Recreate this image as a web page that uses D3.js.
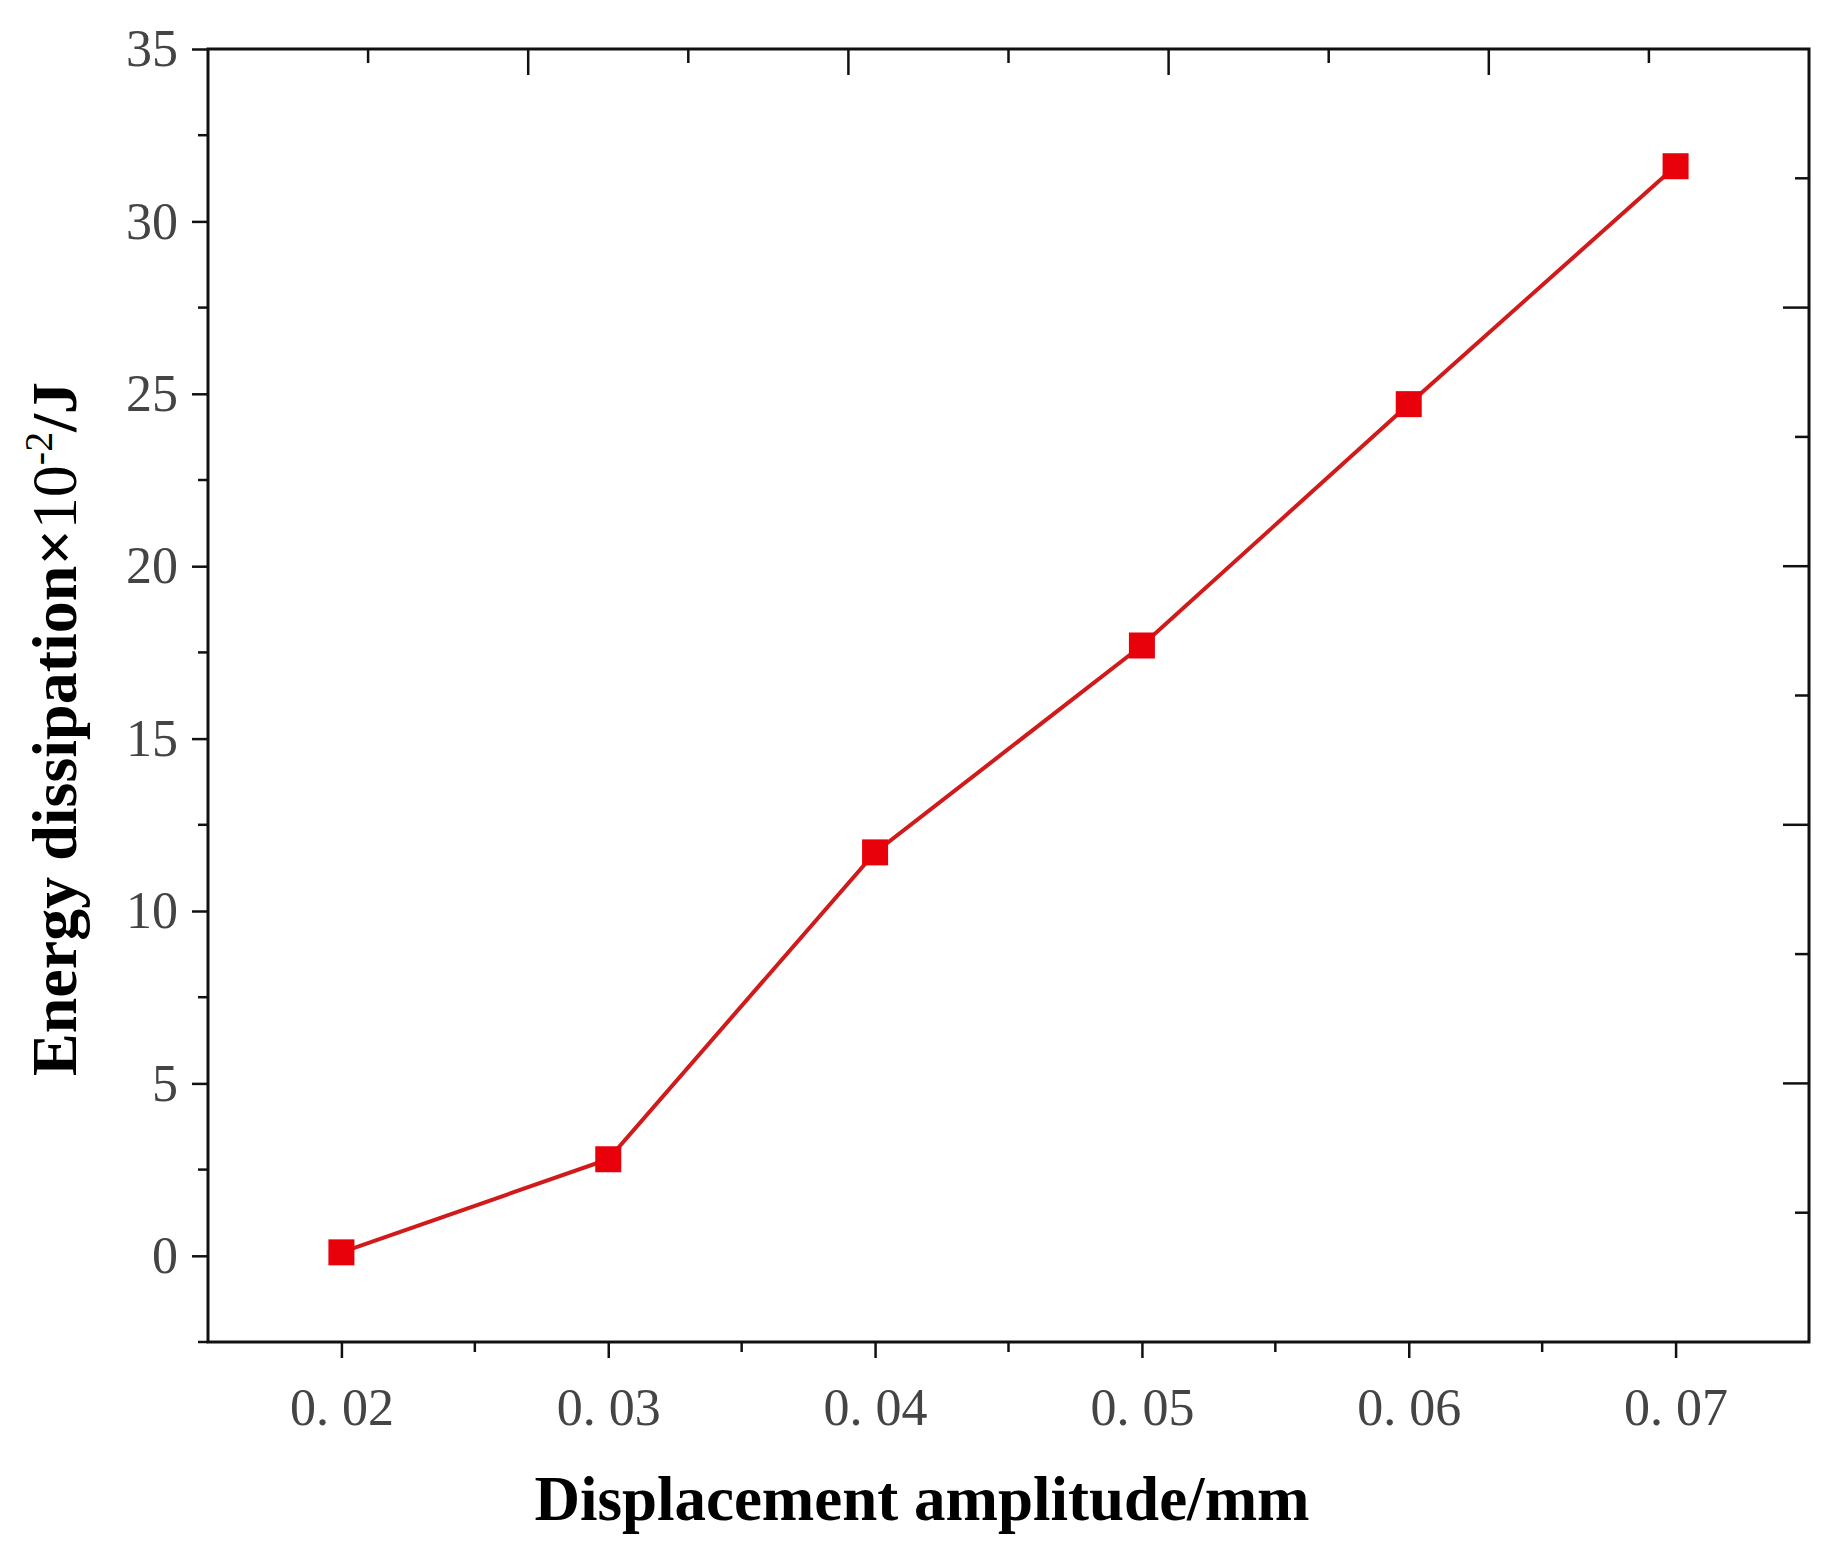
<!DOCTYPE html>
<html><head><meta charset="utf-8">
<script src="https://cdn.jsdelivr.net/npm/d3@7"></script>
<style>body{margin:0;background:#fff}</style>
</head><body>
<svg id="chart" width="1830" height="1568"></svg>
<script>
const amplitude = [0.02, 0.03, 0.04, 0.05, 0.06, 0.07];
const energy = [0.1, 2.8, 11.7, 17.7, 24.7, 31.6];
const xTicks = [0.02, 0.03, 0.04, 0.05, 0.06, 0.07];
const xTickLabels = ["0. 02", "0. 03", "0. 04", "0. 05", "0. 06", "0. 07"];
const yTicks = [0, 5, 10, 15, 20, 25, 30, 35];

const L = 208, R = 1809, T = 49, B = 1342;
const svg = d3.select("#chart");
const x = d3.scaleLinear().domain([0.015, 0.075]).range([L, R]);
const y = d3.scaleLinear().domain([-2.5, 35]).range([B, T]);
const tickFont = "'Liberation Serif', serif";

// frame
svg.append("rect").attr("x", L).attr("y", T).attr("width", R - L).attr("height", B - T)
  .attr("fill", "none").attr("stroke", "#111").attr("stroke-width", 3);

// bottom axis
const bx = svg.append("g").attr("transform", `translate(0,${B})`)
  .call(d3.axisBottom(x).tickValues(xTicks).tickFormat((d, i) => xTickLabels[i]).tickSize(16).tickPadding(30));
bx.append("g").selectAll("line").data(d3.range(0.025, 0.075, 0.01)).enter().append("line")
  .attr("x1", d => x(d)).attr("x2", d => x(d)).attr("y1", 0).attr("y2", 10).attr("stroke", "#111").attr("stroke-width", 2.5);

// left axis
const ly = svg.append("g").attr("transform", `translate(${L},0)`)
  .call(d3.axisLeft(y).tickValues(yTicks).tickSize(16).tickPadding(14));
ly.append("g").selectAll("line").data(d3.range(-2.5, 35, 5)).enter().append("line")
  .attr("y1", d => y(d)).attr("y2", d => y(d)).attr("x1", 0).attr("x2", -10).attr("stroke", "#111").attr("stroke-width", 2.5);

[bx, ly].forEach(g => {
  g.select(".domain").remove();
  g.selectAll(".tick line").attr("stroke", "#111").attr("stroke-width", 2.5);
  g.selectAll(".tick text").attr("font-family", tickFont).attr("font-size", 52).attr("fill", "#444");
});

// top and right inward ticks
const tpos = d3.scaleLinear().domain([0, 10]).range([L, R]);
const rpos = d3.scaleLinear().domain([0, 10]).range([T, B]);
svg.append("g").selectAll("line").data(d3.range(1, 10)).enter().append("line")
  .attr("x1", d => tpos(d)).attr("x2", d => tpos(d)).attr("y1", T).attr("y2", d => T + (d % 2 ? 14 : 26))
  .attr("stroke", "#111").attr("stroke-width", 2.5);
svg.append("g").selectAll("line").data(d3.range(1, 10)).enter().append("line")
  .attr("y1", d => rpos(d)).attr("y2", d => rpos(d)).attr("x1", R).attr("x2", d => R - (d % 2 ? 14 : 26))
  .attr("stroke", "#111").attr("stroke-width", 2.5);

// line + markers
const pts = amplitude.map((a, i) => [a, energy[i]]);
svg.append("path").datum(pts).attr("fill", "none").attr("stroke", "#d11a1a").attr("stroke-width", 4)
  .attr("d", d3.line().x(d => x(d[0])).y(d => y(d[1])));
svg.append("g").selectAll("rect").data(pts).enter().append("rect")
  .attr("x", d => x(d[0]) - 13).attr("y", d => y(d[1]) - 13).attr("width", 26).attr("height", 26)
  .attr("fill", "#e8000b");

// titles
svg.append("text").attr("x", 922).attr("y", 1520).attr("text-anchor", "middle")
  .attr("font-family", tickFont).attr("font-weight", "bold").attr("font-size", 63).attr("fill", "#000")
  .text("Displacement amplitude/mm");
const yt = svg.append("text").attr("transform", `translate(76,729) rotate(-90)`)
  .attr("text-anchor", "middle").attr("font-family", tickFont).attr("font-size", 64).attr("fill", "#000");
yt.append("tspan").attr("font-weight", "bold").text("Energy dissipation×");
yt.append("tspan").text("10");
yt.append("tspan").attr("font-size", 40).attr("dy", -24).text("-2");
yt.append("tspan").attr("font-weight", "bold").attr("dy", 24).text("/J");
</script>
</body></html>
